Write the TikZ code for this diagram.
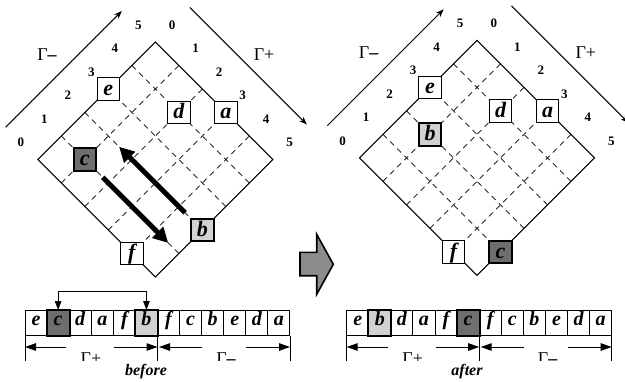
\documentclass[tikz,border=0pt]{standalone}
\usepackage{fontspec}
\setmainfont{Liberation Serif}
\usetikzlibrary{arrows.meta,calc}

\definecolor{darkmod}{gray}{0.43}
\definecolor{lightmod}{gray}{0.82}
\definecolor{blockgray}{gray}{0.55}

\tikzset{
  gridline/.style={line width=0.75pt, dash pattern=on 5.5pt off 4.54pt},
  rim/.style={line width=1pt, line join=miter},
  mod/.style={draw, line width=1pt, fill=white, minimum size=22.5pt, inner sep=0pt,
    text height=14.5pt, text depth=2pt,
    font=\fontsize{22}{22}\selectfont\bfseries\itshape},
  moddark/.style={mod, line width=2pt, fill=darkmod},
  modlight/.style={mod, line width=2pt, fill=lightmod},
  idx/.style={font=\fontsize{13}{13}\selectfont\bfseries, inner sep=0pt},
  axis/.style={line width=1pt, -{Stealth[length=8pt,width=6pt]}},
  axlabel/.style={font=\fontsize{18}{18}\selectfont, inner sep=0pt},
  movearrow/.style={line width=5pt, -{Triangle[length=15pt,width=15pt]}},
  cell/.style={draw, line width=1pt, fill=white, minimum width=22.08pt, minimum height=25pt,
    inner sep=0pt, text height=11pt, text depth=6pt,
    font=\fontsize{20}{20}\selectfont\bfseries\itshape},
  celldark/.style={cell, fill=darkmod},
  celllight/.style={cell, fill=lightmod},
  cellframe/.style={line width=2pt},
  striparrow/.style={line width=1pt, -{Triangle[length=11pt,width=7.5pt]}},
  swaparrow/.style={line width=1pt, {Triangle[length=9pt,width=6.5pt]}-{Triangle[length=9pt,width=6.5pt]}},
  caption/.style={font=\fontsize{16}{16}\selectfont\bfseries\itshape, inner sep=0pt},
}

% oblique grid of one placement, with its index labels and its two axes
\newcommand{\obliquegrid}{%
  \draw[rim] (0,0) -- (5,0) -- (5,5) -- (0,5) -- cycle;
  \foreach \k in {1,...,4} {
    \draw[gridline] (\k,0) -- (\k,5);
    \draw[gridline] (0,\k) -- (5,\k);
  }
  \foreach \k in {0,...,5} {
    \node[idx] at (\k,-0.72) {\k};
    \node[idx] at (5.72,\k) {\k};
  }
  \draw[axis] (0,-1.37) -- (4.95,-1.37);
  \draw[axis] (6.47,0) -- (6.47,4.98);
  \node[axlabel] at (2.43,-2.04) {Γ{\bfseries –}};
  \node[axlabel] at (7.05,2.58) {Γ+};
}

\begin{document}
\begin{tikzpicture}[x=1pt, y=-1pt]
\useasboundingbox (0,0) rectangle (625,381);

% ---------- placement before the swap ----------
\begin{scope}[shift={(37.8,159.5)}, x={(23.5pt,23.5pt)}, y={(23.5pt,-23.5pt)}]
  \obliquegrid
  \node[mod]       (e1) at (3,0) {e};
  \node[moddark]   (c1) at (1,1) {c};
  \node[mod]       (d1) at (4,2) {d};
  \node[mod]       (a1) at (5,3) {a};
  \node[mod]       (f1) at (0,4) {f};
  \node[modlight]  (b1) at (2,5) {b};
  \coordinate (bfrom) at (2,4.27);
  \coordinate (bto)   at (2,1.46);
  \coordinate (cfrom) at (1,1.76);
  \coordinate (cto)   at (1,4.55);
  \draw[movearrow] (bfrom) -- (bto);
  \draw[movearrow] (cfrom) -- (cto);
\end{scope}

% ---------- placement after the swap ----------
\begin{scope}[shift={(359.5,157.9)}, x={(23.5pt,23.5pt)}, y={(23.5pt,-23.5pt)}]
  \obliquegrid
  \node[mod]       (e2) at (3,0) {e};
  \node[modlight]  (b2) at (2,1) {b};
  \node[mod]       (d2) at (4,2) {d};
  \node[mod]       (a2) at (5,3) {a};
  \node[mod]       (f2) at (0,4) {f};
  \node[moddark]   (c2) at (1,5) {c};
\end{scope}

% ---------- block arrow between the two states ----------
\draw[line width=1.6pt, line join=miter, fill=blockgray]
  (300,252.3) -- (316.7,252.3) -- (316.7,234.3) -- (333.3,264.3)
  -- (316.7,294.3) -- (316.7,275.7) -- (300,275.7) -- cycle;

% ---------- sequence pair before ----------
\foreach \t/\s [count=\k] in {e/cell,c/celldark,d/cell,a/cell,f/cell,b/celllight,
                              f/cell,c/cell,b/cell,e/cell,d/cell,a/cell}
  \node[\s] (sL\k) at ({25+22.08*(\k-0.5)},323) {\t};
\foreach \k in {2,6}
  \draw[cellframe] (sL\k.south west) rectangle (sL\k.north east);
\draw[swaparrow] (sL2.north) -- ++(0,-19) -| (sL6.north);

% ---------- sequence pair after ----------
\foreach \t/\s [count=\k] in {e/cell,b/celllight,d/cell,a/cell,f/cell,c/celldark,
                              f/cell,c/cell,b/cell,e/cell,d/cell,a/cell}
  \node[\s] (sR\k) at ({346.7+22.08*(\k-0.5)},323) {\t};
\foreach \k in {2,6}
  \draw[cellframe] (sR\k.south west) rectangle (sR\k.north east);

% ---------- extents of the two sequences ----------
\begin{scope}
  \clip (0,335) rectangle (625,360.5);
  \foreach \xo/\nm in {0/L, 321.7/R} {
    \coordinate (t0\nm) at (25+\xo,347);
    \coordinate (t1\nm) at (157.5+\xo,347);
    \coordinate (t2\nm) at (290+\xo,347);
    \draw[line width=1pt] (25+\xo,335.5) -- (25+\xo,362);
    \draw[line width=1pt] (157.5+\xo,335.5) -- (157.5+\xo,362);
    \draw[line width=1pt] (290+\xo,335.5) -- (290+\xo,362);
    \node[axlabel] (gp\nm) at (91+\xo,359) {Γ+};
    \node[axlabel] (gm\nm) at (226+\xo,359) {Γ{\bfseries –}};
    \draw[striparrow] (66+\xo,347) -- (t0\nm);
    \draw[striparrow] (114+\xo,347) -- (t1\nm);
    \draw[striparrow] (202+\xo,347) -- ([xshift=1.5pt]t1\nm);
    \draw[striparrow] (246+\xo,347) -- (t2\nm);
  }
\end{scope}

\node[caption] (before) at (146,372) {before};
\node[caption] (after)  at (467,372) {after};
\end{tikzpicture}
\end{document}
